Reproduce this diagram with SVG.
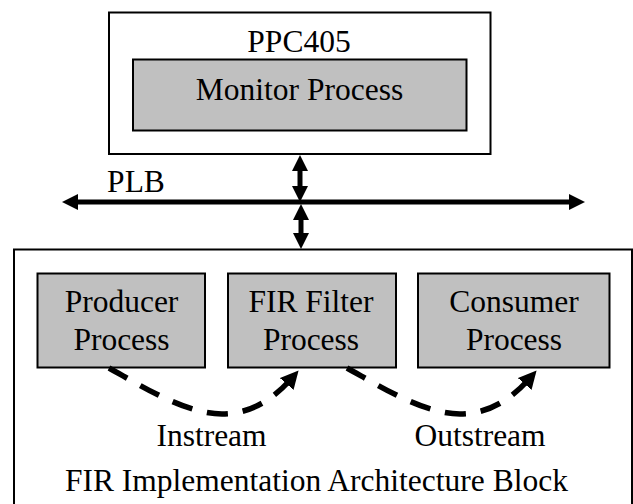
<svg xmlns="http://www.w3.org/2000/svg" width="633" height="504" viewBox="0 0 633 504">
<style>
text{font-family:"Liberation Serif","Times New Roman",serif;font-size:31.5px;fill:#000;text-anchor:middle}
.box{fill:#fff;stroke:#000;stroke-width:2}
.proc{fill:#c0c0c0;stroke:#000;stroke-width:2}
.bus{fill:none;stroke:#000;stroke-width:5}
.dash{fill:none;stroke:#000;stroke-width:5.5;stroke-dasharray:21 15}
</style>
<defs><marker id="a" markerUnits="userSpaceOnUse" markerWidth="18" markerHeight="18" refX="10" refY="8" orient="auto-start-reverse"><path d="M0 0L16 8L0 16Z" fill="#000"/></marker>
<marker id="b" markerUnits="userSpaceOnUse" markerWidth="20" markerHeight="20" refX="8" refY="9" orient="auto"><path d="M0 0L18 9L0 18Z" fill="#000"/></marker></defs>
<g id="ppc405"><rect class="box" x="109" y="12.5" width="381.5" height="141.5"/><text x="299" y="52">PPC405</text></g>
<g id="monitor"><rect class="proc" x="133" y="59.5" width="333.5" height="71"/><text x="299.5" y="100">Monitor Process</text></g>
<g id="fir-block"><rect class="box" x="14" y="249.5" width="618" height="260"/><text x="316.4" y="491">FIR Implementation Architecture Block</text></g>
<g id="producer"><rect class="proc" x="37.5" y="273.5" width="167.5" height="94"/><text x="121.5" y="312">Producer</text><text x="121.5" y="350">Process</text></g>
<g id="fir-filter"><rect class="proc" x="228" y="273.5" width="168" height="94"/><text x="311" y="312">FIR Filter</text><text x="311" y="350">Process</text></g>
<g id="consumer"><rect class="proc" x="418" y="273.5" width="191.5" height="94"/><text x="514" y="312">Consumer</text><text x="514" y="350">Process</text></g>
<g id="plb"><text x="136" y="191.5">PLB</text></g>
<g id="labels"><text x="211.5" y="445.5">Instream</text><text x="480" y="445.5">Outstream</text></g>
<g id="connectors">
<path class="bus" d="M68 202H579" marker-start="url(#a)" marker-end="url(#a)"/>
<path class="bus" d="M300 161V196" marker-start="url(#a)" marker-end="url(#a)"/>
<path class="bus" d="M301 210V243" marker-start="url(#a)" marker-end="url(#a)"/>
<path class="dash" d="M109 368C140 385 185 414 222 414C255 414 278 394 292 378" marker-end="url(#b)"/>
<path class="dash" d="M347 368C378 385 423 414 460 414C493 414 516 394 530 378" marker-end="url(#b)"/>
</g>
</svg>
